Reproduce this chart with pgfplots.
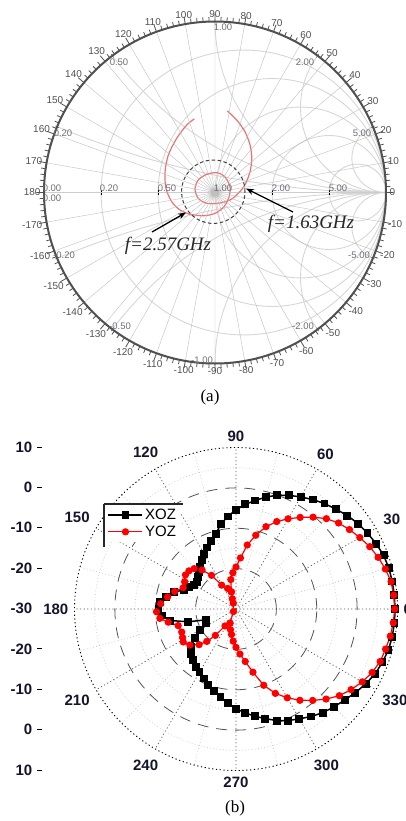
\documentclass[border=0pt]{standalone}
\usepackage{pgfplots}
\pgfplotsset{compat=1.18}
\usepgfplotslibrary{polar,smithchart}
\usetikzlibrary{arrows.meta}
\usepackage{fontspec}
\setmainfont{Liberation Sans}
\newfontfamily\timesfont{Liberation Serif}
\definecolor{smithgrid}{RGB}{214,214,214}
\definecolor{smithlbl}{RGB}{110,110,120}
\definecolor{ringcol}{RGB}{80,80,80}
\definecolor{curvered}{RGB}{238,112,112}
\definecolor{lblblue}{RGB}{20,20,45}

\begin{document}
\begin{tikzpicture}
\useasboundingbox (0pt,0pt) rectangle (406pt,-821pt);

% ---------------- (a) Smith chart ----------------
\begin{smithchart}[
  at={(215pt,-192.5pt)}, anchor=center,
  width=342pt, scale only axis,
  xtick={0.2,0.5,1,2,5},
  ytick={-5,-2,-1,-0.5,-0.2,0.2,0.5,1,2,5},
  minor xtick={}, minor ytick={},
  xticklabels={}, yticklabels={},
  grid style={smithgrid, line width=0.9pt},
  axis line style={smithgrid, line width=0.9pt},
]
\end{smithchart}

% reflection-coefficient plane for the measured curve
\begin{axis}[
  at={(215pt,-192.5pt)}, anchor=center,
  width=342pt, height=342pt, scale only axis,
  xmin=-1, xmax=1, ymin=-1, ymax=1, enlargelimits=false, hide axis,
]
\addplot[curvered, line width=1.2pt, smooth] coordinates {
(-0.121,0.430) (-0.165,0.395) (-0.224,0.317) (-0.273,0.219) (-0.292,0.121)
(-0.287,0.025) (-0.253,-0.054) (-0.205,-0.102) (-0.146,-0.127) (-0.068,-0.136)
(0.000,-0.122) (0.053,-0.083) (0.082,-0.025) (0.088,0.034) (0.058,0.092)
(0.010,0.116) (-0.049,0.106) (-0.098,0.073) (-0.117,0.020) (-0.098,-0.034)
(-0.049,-0.063) (0.019,-0.063) (0.088,-0.044) (0.136,-0.005) (0.175,0.044)
(0.205,0.122) (0.215,0.200) (0.205,0.278) (0.175,0.356) (0.127,0.424) (0.072,0.477)
};
\end{axis}

\begin{polaraxis}[
  at={(215pt,-192.5pt)}, anchor=center,
  width=342pt, height=342pt, scale only axis,
  xmin=0, xmax=360, ymin=0, ymax=1,
  xtick={0,10,...,350},
  xticklabels={0,10,20,30,40,50,60,70,80,90,100,110,120,130,140,150,160,170,180,-170,-160,-150,-140,-130,-120,-110,-100,-90,-80,-70,-60,-50,-40,-30,-20,-10},
  minor x tick num=4,
  ytick=\empty,
  xtick align=inside,
  major tick length=7.5pt, minor tick length=4.5pt,
  tick style={ringcol, line width=0.8pt},
  x axis line style={ringcol, line width=2pt},
  y axis line style={draw=none},
  xticklabel style={font=\fontsize{10}{10}\selectfont, text=ringcol},
]
\end{polaraxis}

\begin{scope}[x=1pt,y=1pt]
% Smith chart labels
\begin{scope}[every node/.style={font=\fontsize{9.5}{9.5}\selectfont, text=smithlbl, inner sep=0pt}]
\node at (52,-188) {0.00};
\node at (52,-198) {0.00};
\node at (109,-188) {0.20};
\node at (167,-188) {0.50};
\node at (223,-188) {1.00};
\node at (281,-188) {2.00};
\node at (338,-188) {5.00};
\node at (223,-27) {1.00};
\node at (119,-62) {0.50};
\node at (305,-62) {2.00};
\node at (63,-133) {0.20};
\node at (362,-133) {5.00};
\node at (64,-255) {-0.20};
\node at (359,-255) {-5.00};
\node at (120,-326) {-0.50};
\node at (303,-326) {-2.00};
\node at (202,-360) {-1.00};
\end{scope}
\draw[black!75, line width=1pt, dash pattern=on 3.5pt off 2.5pt] (213.3,-191.7) circle (31.7);
\draw[-{Stealth[length=8pt,width=6pt]}, line width=1.3pt] (152,-232) -- (186,-212.5);
\draw[-{Stealth[length=8pt,width=6pt]}, line width=1.3pt] (293,-212) -- (246,-188.5);
\node[font=\timesfont\itshape\fontsize{19}{19}\selectfont, text=black!85] at (168,-246) {f=2.57GHz};
\node[font=\timesfont\itshape\fontsize{19}{19}\selectfont, text=black!85] at (311,-224) {f=1.63GHz};
\node[font=\timesfont\fontsize{17}{17}\selectfont] at (210,-397) {(a)};
\end{scope}

% ---------------- (b) Polar pattern ----------------
\begin{axis}[
  at={(37pt,-608.5pt)}, anchor=west,
  width=8pt, height=323pt, scale only axis,
  xmin=0, xmax=1, ymin=-40, ymax=40,
  axis x line=none, axis y line*=left,
  axis line style={draw=none},
  ytick={-40,-30,-20,-10,10,20,30,40},
  yticklabels={10,0,-10,-20,-20,-10,0,10},
  extra y ticks={0}, extra y tick labels={-30},
  extra y tick style={major tick length=0pt},
  minor y tick num=1,
  tick align=inside,
  major tick length=5pt, minor tick length=2.5pt,
  ytick style={black, line width=0.8pt},
  yticklabel style={font=\bfseries\fontsize{15}{15}\selectfont, text=lblblue, inner sep=4.5pt},
]
\end{axis}

\begin{polaraxis}[
  at={(236pt,-609pt)}, anchor=center,
  width=323pt, height=323pt, scale only axis,
  xmin=0, xmax=360, ymin=0, ymax=40,
  xtick={0,30,...,330},
  xticklabels={0,30,60,90,120,150,180,210,240,270,300,330},
  minor x tick num=1,
  ytick={10,30}, minor ytick={5,15,25,35},
  extra y ticks={20}, extra y tick labels={},
  extra y tick style={grid=major, major grid style={gray!75!black, line width=0.7pt, dash pattern=on 1.2pt off 2.4pt}},
  yticklabels={},
  major tick length=0pt, minor tick length=0pt,
  xmajorgrids, xminorgrids, ymajorgrids, yminorgrids,
  major x grid style={gray!70!black, line width=0.7pt, dash pattern=on 1.2pt off 2.4pt},
  minor x grid style={gray!45, line width=0.6pt, dash pattern=on 1pt off 2.2pt},
  major y grid style={gray!65!black, line width=0.8pt, dash pattern=on 11pt off 8pt},
  minor y grid style={gray!40, line width=0.6pt, dash pattern=on 1pt off 2.2pt},
  x axis line style={black, line width=0.9pt, dash pattern=on 1.2pt off 2.6pt},
  y axis line style={draw=none},
  xticklabel style={font=\bfseries\fontsize{15}{15}\selectfont, text=lblblue, inner sep=6pt},
  y filter/.expression={y+30},
  legend style={at={(0.093,0.823)}, anchor=north west, draw=none, fill=white,
    font=\fontsize{15}{15}\selectfont, inner xsep=3pt, inner ysep=2pt, row sep=1pt,
    cells={anchor=west}},
  legend image code/.code={\draw[mark repeat=2,mark phase=2,#1] plot coordinates {(0pt,0pt) (17pt,0pt) (34pt,0pt)};},
]
\addplot[black, line width=1.5pt, mark=square*, mark size=3.2pt, mark options={solid}] coordinates {
(0,9.4) (5,9.36) (10,9.3) (15,9.2) (20,8.9) (25,8.3) (30,7.6) (35,6.9) (40,6.0) (45,5.0)
(50,4.1) (55,3.1) (60,2.05) (65,1.06) (70,0.0) (75,-1.3) (80,-2.7) (85,-4.0) (90,-5.4) (95,-7.0)
(100,-8.6) (105,-10.7) (110,-12.0) (115,-13.2) (120,-14.2) (125,-15.3) (130,-16.3) (135,-17.1) (140,-17.7) (145,-18.2)
(150,-18.0) (155,-17.3) (160,-16.2) (165,-14.0) (170,-12.3) (175,-11.2) (180,-10.8) (185,-11.5) (190,-13.5) (195,-17.8)
(200,-22.2) (205,-21.8) (210,-19.8) (215,-17.6) (220,-15.5) (225,-14.2) (230,-13.4) (235,-12.6) (240,-11.9) (245,-11.0)
(250,-10.0) (255,-9.0) (260,-7.9) (265,-6.6) (270,-5.3) (275,-4.2) (280,-3.0) (285,-1.9) (290,-0.6) (295,0.5)
(300,1.4) (305,2.5) (310,3.5) (315,4.3) (320,5.1) (325,6.1) (330,7.1) (335,8.0) (340,8.6) (345,9.1)
(350,9.3) (355,9.4) (360,9.4)
};
\addlegendentry{XOZ}
% YOZ (main lobe, back lobe, and the pass near the centre)
\addplot[red, line width=1.2pt, mark=*, mark size=3pt, mark options={solid}] coordinates {
(247,-26.2) (255,-24.7) (260,-23.6) (265,-22.0) (270,-20.5) (275,-18.8) (280,-16.8) (285,-13.8)
(290,-9.9) (295,-6.95) (300,-4.6) (305,-2.4) (310,-0.45) (315,1.55) (320,3.4) (325,4.8)
(330,6.1) (335,7.2) (340,8.0) (345,8.35) (350,8.8) (355,9.1) (360,9.3) (5,9.2)
(10,9.0) (15,8.3) (20,7.45) (25,6.55) (30,5.4) (35,4.3) (40,3.15) (45,1.65)
(50,-0.3) (55,-2.3) (60,-4.2) (65,-6.1) (70,-8.3) (75,-11.1) (80,-13.9) (85,-17.3)
(90,-19.6) (95,-21.0) (100,-22.6) (105,-25.6)
(112,-24.5) (121,-23.1) (126,-19.7) (131,-17.2) (136,-15.6) (141,-15.0) (146,-14.9) (152,-15.6)
(158,-15.9) (164,-14.2) (170,-12.8) (176,-11.3) (182,-10.3) (187,-11.0) (191,-12.9) (196,-15.1)
(203,-15.4) (208,-15.0) (212,-14.6) (218,-15.5) (224,-17.3) (228,-19.2) (232,-21.7) (237,-25.0)
(247,-26.2) (225,-29.1) (115,-28.4) (110,-27.3) (105,-25.6)
};
\addlegendentry{YOZ}
\end{polaraxis}
\begin{scope}[x=1pt,y=1pt]
\draw[black!85, line width=1.8pt] (104,-504) -- (183,-504);
\draw[black!85, line width=1.8pt] (104,-504) -- (104,-547);
\node[font=\timesfont\fontsize{17}{17}\selectfont] at (235,-808) {(b)};
\end{scope}
\end{tikzpicture}
\end{document}
